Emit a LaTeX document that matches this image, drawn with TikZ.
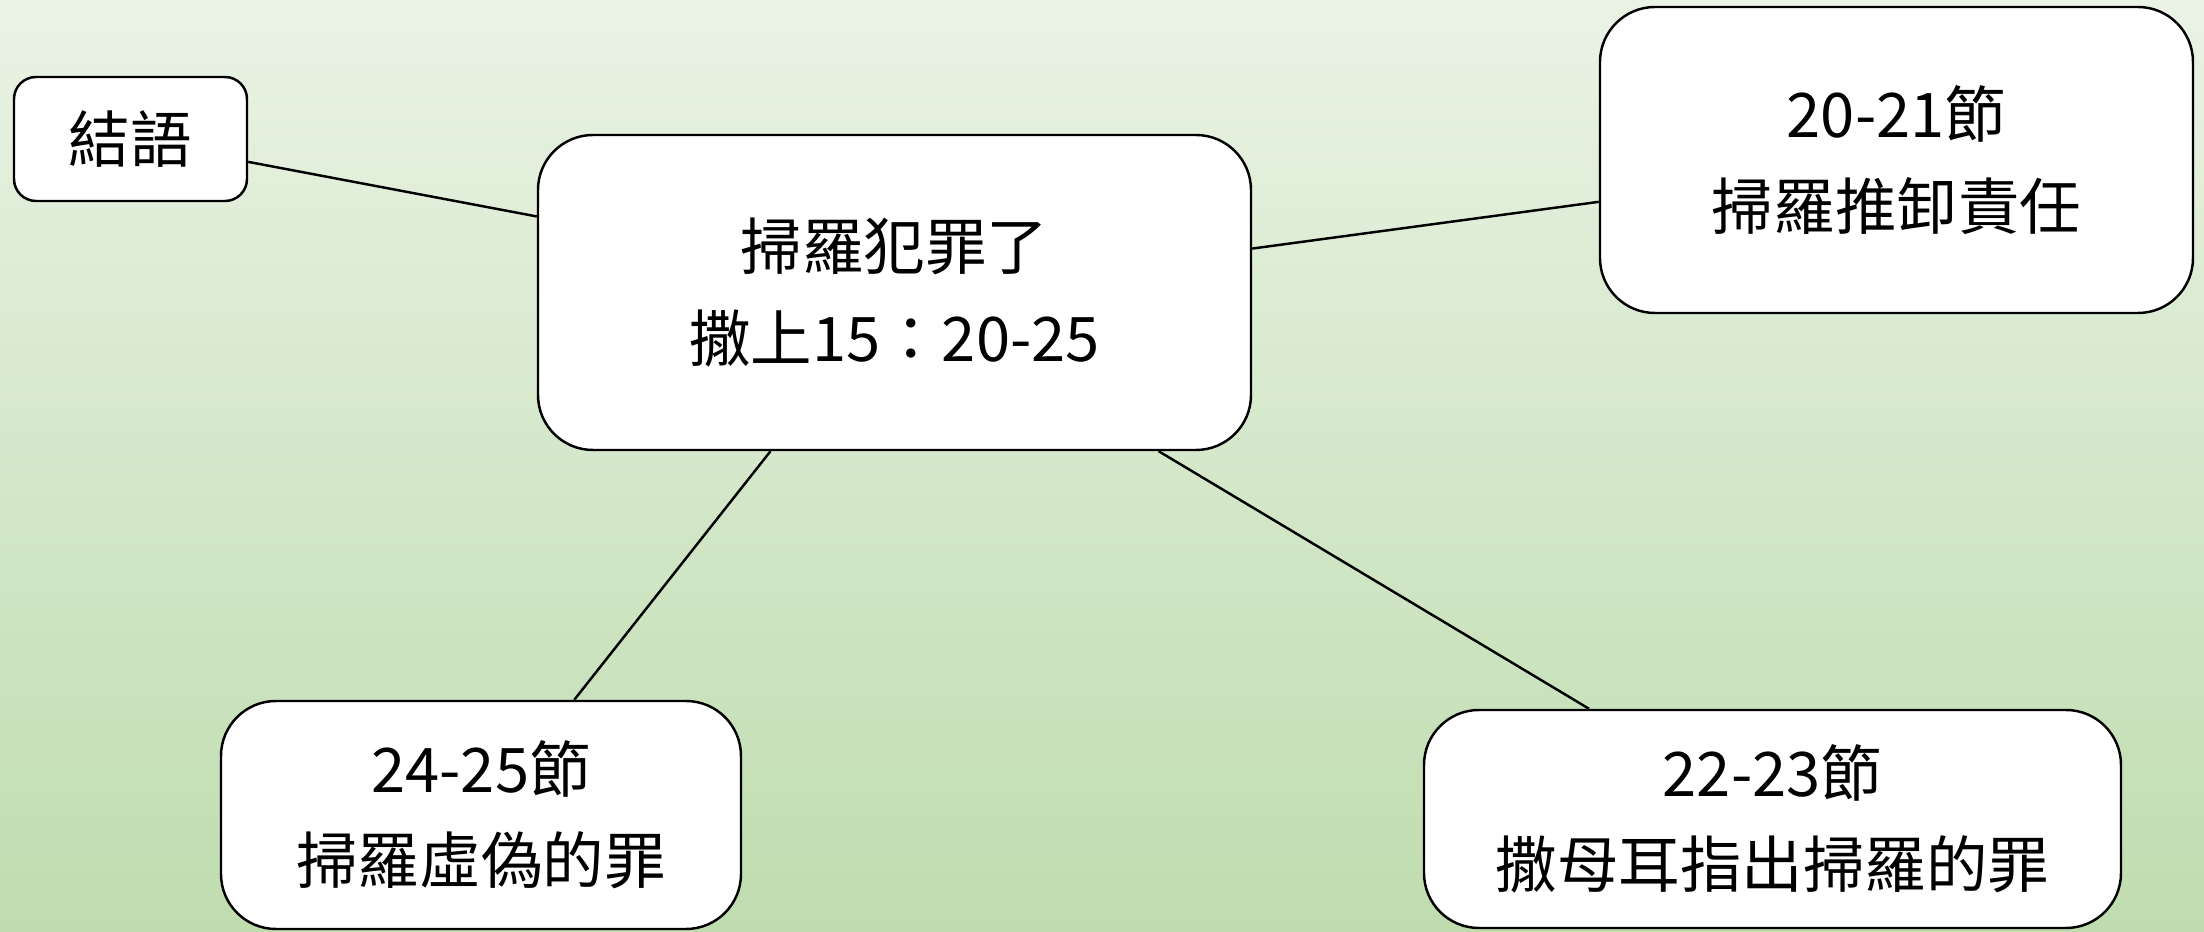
\documentclass[tikz,border=0pt]{standalone}
\usepackage{fontspec}
\usepackage{xcolor}
\usepackage{tikz}
\usetikzlibrary{positioning}
\setmainfont{Noto Sans CJK TC}
\definecolor{paletop}{HTML}{EAF3E5}
\definecolor{palebottom}{HTML}{BFDCAF}

\begin{document}
\begin{tikzpicture}[
	verse/.style={draw,fill=white,rounded corners=0.55cm,line width=0.7pt,
		align=center,inner sep=0pt,font=\fontsize{17.5}{26}\selectfont},
	link/.style={line width=0.7pt}]
  \fill[top color=paletop,bottom color=palebottom] (0,0) rectangle (22.04,9.32);
  \useasboundingbox (0,0) rectangle (22.04,9.32);
  \node[verse,rounded corners=0.22cm,minimum width=2.33cm,minimum height=1.24cm] (jieyu) at (1.305,7.93) {結語};
  \node[verse,minimum width=7.13cm,minimum height=3.15cm] (saul) at (8.945,6.395) {掃羅犯罪了\\撒上15：20-25};
  \node[verse,minimum width=5.93cm,minimum height=3.06cm] (v2021) at (18.965,7.72) {20-21節\\掃羅推卸責任};
  \node[verse,minimum width=5.20cm,minimum height=2.28cm] (v2425) at (4.81,1.17) {24-25節\\掃羅虛偽的罪};
  \node[verse,minimum width=6.97cm,minimum height=2.18cm] (v2223) at (17.725,1.13) {22-23節\\撒母耳指出掃羅的罪};
  \draw[link] (jieyu.-11) -- (saul.168.7);
  \draw[link] (saul.7.4) -- (v2021.-172.3);
  \draw[link] (saul.-128.2) -- (v2425.51.3);
  \draw[link] (saul.-31.8) -- (v2223.149.4);
\end{tikzpicture}
\end{document}
